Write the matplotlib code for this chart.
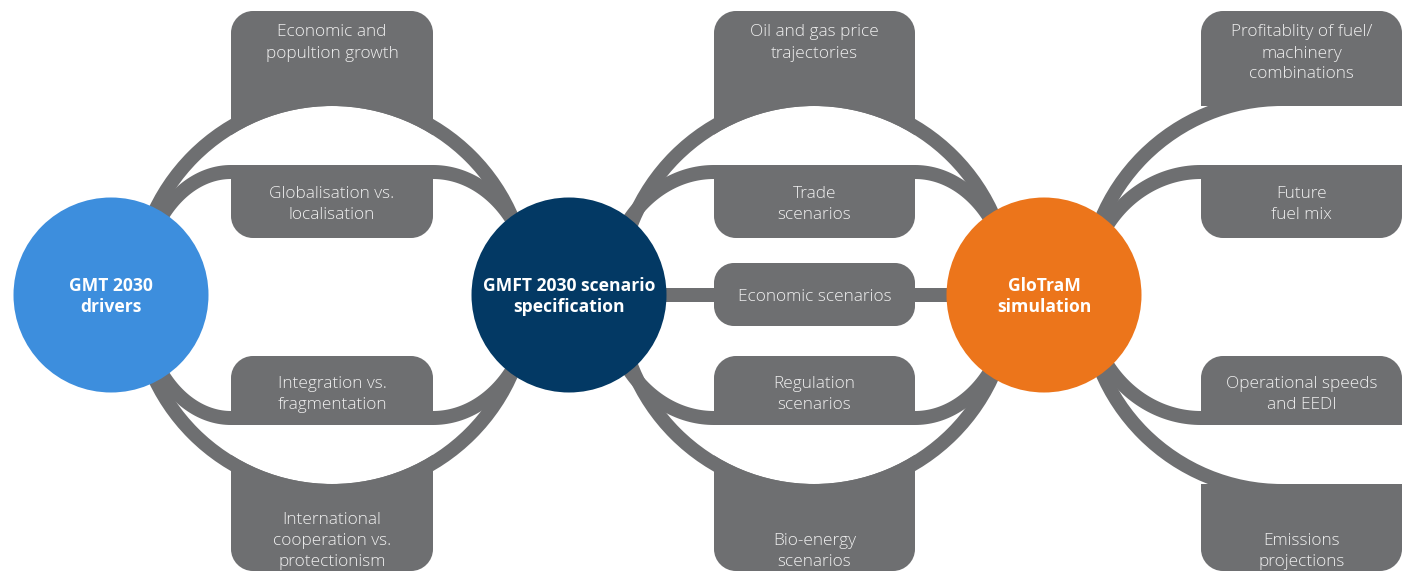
import numpy as np
import matplotlib
matplotlib.use("Agg")
import matplotlib.pyplot as plt
from matplotlib.path import Path
from matplotlib.patches import PathPatch, Circle, Wedge

# labels of the three hubs
hub_labels = [["GMT 2030", "drivers"],
              ["GMFT 2030 scenario", "specification"],
              ["GloTraM", "simulation"]]
hub_colors = ["#3D8EDD", "#033964", "#EC751B"]

# box labels per column, top to bottom
col1_labels = [["Economic and", "popultion growth"],
               ["Globalisation vs.", "localisation"],
               ["Integration vs.", "fragmentation"],
               ["International", "cooperation vs.", "protectionism"]]
col2_labels = [["Oil and gas price", "trajectories"],
               ["Trade", "scenarios"],
               ["Economic scenarios"],
               ["Regulation", "scenarios"],
               ["Bio-energy", "scenarios"]]
col3_labels = [["Profitablity of fuel/", "machinery", "combinations"],
               ["Future", "fuel mix"],
               ["Operational speeds", "and EEDI"],
               ["Emissions", "projections"]]

GREY = "#6E6F71"
TXT = "#F0F0F0"
W, H = 1408, 572
CY = 295            # centre line
HUB_R = 97.5
RING_R = 196        # centre line of big rings
BAND = 14           # stroke width in px
BAND_B = 123        # half height of the inner bands
CR = 22             # corner radius
PX2PT = 72 / 100

hub_x = [111, 569, 1044]
col_x = [(231, 433), (714, 915), (1201, 1402)]
ring_x = [332, 814, 1282]

fig = plt.figure(figsize=(W / 100, H / 100), dpi=100)
ax = fig.add_axes([0, 0, 1, 1])
ax.set_xlim(0, W)
ax.set_ylim(H, 0)
ax.axis("off")


def rbox(x0, y0, x1, y1, r, z=2):
    tl, tr, br, bl = r
    k = 0.5523
    v = [(x0 + tl, y0), (x1 - tr, y0),
         (x1 - tr + k * tr, y0), (x1, y0 + tr - k * tr), (x1, y0 + tr),
         (x1, y1 - br),
         (x1, y1 - br + k * br), (x1 - br + k * br, y1), (x1 - br, y1),
         (x0 + bl, y1),
         (x0 + bl - k * bl, y1), (x0, y1 - bl + k * bl), (x0, y1 - bl),
         (x0, y0 + tl),
         (x0, y0 + tl - k * tl), (x0 + tl - k * tl, y0), (x0 + tl, y0),
         (x0 + tl, y0)]
    c = [Path.MOVETO, Path.LINETO,
         Path.CURVE4, Path.CURVE4, Path.CURVE4,
         Path.LINETO,
         Path.CURVE4, Path.CURVE4, Path.CURVE4,
         Path.LINETO,
         Path.CURVE4, Path.CURVE4, Path.CURVE4,
         Path.LINETO,
         Path.CURVE4, Path.CURVE4, Path.CURVE4,
         Path.CLOSEPOLY]
    ax.add_patch(PathPatch(Path(v, c), fc=GREY, ec="none", zorder=z))


def label(x, y, lines, size=12.4, weight="light", pitch=21):
    n = len(lines)
    for i, s in enumerate(lines):
        ax.text(x, y + (i - (n - 1) / 2) * pitch, s, ha="center", va="center",
                fontsize=size, color=TXT if weight != "bold" else "white",
                fontweight=weight, family=["Open Sans", "DejaVu Sans"], zorder=10)


def band(pts, z=3):
    pts = np.array(pts)
    ax.plot(pts[:, 0], pts[:, 1], color=GREY, lw=BAND * PX2PT,
            solid_capstyle="butt", zorder=z)


def quarter(cx, axr, top, left):
    t = np.linspace(0, np.pi / 2, 60)
    sx = -1 if left else 1
    sy = -1 if top else 1
    return [(cx + sx * axr * np.sin(a), CY + sy * BAND_B * np.cos(a)) for a in t]


# outer boxes and big rings, columns 1 and 2
for i in range(2):
    x0, x1 = col_x[i]
    rbox(x0, 11, x1, 150, (CR, CR, 0, 0), z=1)
    rbox(x0, 440, x1, 571, (0, 0, CR, CR), z=1)
    ax.add_patch(Circle((ring_x[i], CY), RING_R - BAND / 2, fc="white", ec="none", zorder=1.5))
    ax.add_patch(Wedge((ring_x[i], CY), RING_R + BAND / 2, 0, 360, width=BAND,
                       fc=GREY, ec="none", zorder=1.6))

# column 3 outer boxes and half ring
x0, x1 = col_x[2]
rbox(x0, 11, x1, CY - RING_R + BAND / 2, (CR, CR, 0, 0), z=1)
rbox(x0, CY + RING_R - BAND / 2, x1, 571, (0, 0, CR, CR), z=1)
ax.add_patch(Wedge((ring_x[2], CY), RING_R + BAND / 2, 90, 270, width=BAND,
                   fc=GREY, ec="none", zorder=1.6))

# inner bands
ends = [(90, 100), (107, 96), (114, None)]
for i in range(3):
    x0, x1 = col_x[i]
    aL, aR = ends[i]
    for top in (True, False):
        pts = quarter(x0, aL, top, True)[::-1]
        if aR is None:
            pts += [(x1, CY + (-BAND_B if top else BAND_B))]
        else:
            pts += quarter(x1, aR, top, False)
        band(pts)

# straight link through the middle column
band([(hub_x[1], CY), (hub_x[2], CY)])

# inner boxes
for i in range(3):
    x0, x1 = col_x[i]
    rbox(x0, CY - BAND_B - BAND / 2, x1, 238, (0, 0, CR, CR), z=4)
    rbox(x0, 356, x1, CY + BAND_B, (CR, CR, 0, 0), z=4)
x0, x1 = col_x[1]
rbox(x0, 263, x1, 326, (20, 20, 20, 20), z=4)

# hubs
for x, c, lab in zip(hub_x, hub_colors, hub_labels):
    ax.add_patch(Circle((x, CY), HUB_R, fc=c, ec="none", zorder=6))
    label(x, CY + 1.5, lab, size=12.6, weight="bold")

# box texts
c1 = [43, 204.5, 394.5, 541]
c2 = [43, 204.5, 297, 394.5, 551.5]
c3 = [53.5, 204.5, 394.5, 551.5]
for (x0, x1), labs, ys in zip(col_x, [col1_labels, col2_labels, col3_labels], [c1, c2, c3]):
    for lab, y in zip(labs, ys):
        label((x0 + x1) / 2, y, lab)

fig.savefig("out.png", dpi=100, facecolor="white")
